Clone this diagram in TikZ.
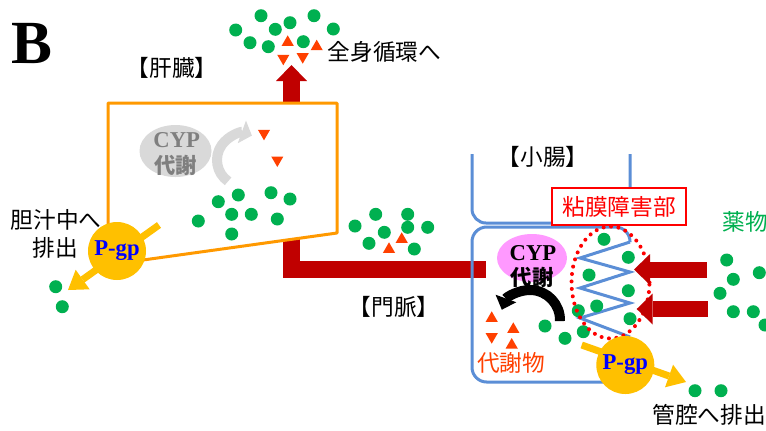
\documentclass[tikz,border=0pt]{standalone}
\usepackage{fontspec}
\setmainfont{Liberation Serif}
\newfontfamily\jp{Noto Sans CJK JP}
\usetikzlibrary{arrows.meta,shapes.geometric}

\definecolor{druggreen}{RGB}{0,176,80}
\definecolor{metab}{RGB}{255,64,0}
\definecolor{portalred}{RGB}{192,0,0}
\definecolor{gold}{RGB}{255,192,0}
\definecolor{liverorange}{RGB}{255,153,0}
\definecolor{mucosa}{RGB}{91,142,214}
\definecolor{cyppink}{RGB}{255,153,255}
\definecolor{cypgray}{RGB}{217,217,217}
\definecolor{cyptextgray}{RGB}{127,127,127}
\definecolor{pgpblue}{RGB}{0,0,255}

\begin{document}
\begin{tikzpicture}[x=0.75pt,y=0.75pt,
  drug/.style={circle,fill=druggreen,inner sep=0pt,minimum size=9.75pt},
  metup/.style={regular polygon,regular polygon sides=3,fill=metab,inner sep=0pt,minimum size=10.5pt},
  metdown/.style={metup,shape border rotate=180},
  jptext/.style={font=\jp\fontsize{17}{17}\selectfont,inner sep=0pt},
  vessel/.style={draw=portalred,line width=12.75pt},
  bigarrow/.style={vessel,-{Triangle[width=23.25pt,length=12pt,line width=0pt]}},
  inflow/.style={draw=portalred,line width=12pt,-{Triangle[width=23.25pt,length=12pt,line width=0pt]}},
  pgpflow/.style={draw=gold,line width=5.25pt,-{Triangle[width=18pt,length=13.5pt,line width=0pt]}},
  pgp/.style={circle,fill=gold,minimum size=43.5pt,inner sep=0pt,text=pgpblue,font=\bfseries\fontsize{17}{17}\selectfont},
  membrane/.style={draw=mucosa,line width=2.25pt},
  cyplatin/.style={font=\bfseries\fontsize{17}{17}\selectfont,inner sep=0pt},
  cypjp/.style={font=\jp\bfseries\fontsize{16}{16}\selectfont,inner sep=0pt},
]
% canvas
\fill[white] (0,0) rectangle (766,-430);
\useasboundingbox (0,0) rectangle (766,-430);

% panel letter and labels
\node[font=\bfseries\fontsize{46}{46}\selectfont,inner sep=0pt] (panel) at (31.5,-43.5) {B};
\node[jptext] (liverLbl) at (172,-68) {【肝臓】};
\node[jptext] (sysLbl) at (384.5,-52) {全身循環へ};
\node[jptext] (bileLbl1) at (56,-220) {胆汁中へ};
\node[jptext] (bileLbl2) at (55.5,-248) {排出};
\node[jptext] (portalLbl) at (394,-307) {【門脈】};
\node[jptext] (gutLbl) at (543,-157) {【小腸】};
\node[jptext,text=druggreen] (drugLbl) at (745,-222) {薬物};
\node[jptext,text=metab] (metLbl) at (511,-363) {代謝物};
\node[jptext] (lumenLbl) at (709,-415) {管腔へ排出};

% portal vein and outflow to the systemic circulation
\coordinate (pvLiver) at (291.5,-236);
\coordinate (pvBend) at (291.5,-269.5);
\coordinate (pvGut) at (486,-269.5);
\draw[vessel] (pvLiver) -- (pvBend) -- (pvGut);
\coordinate (liverOut) at (291.5,-105);
\coordinate (sysIn) at (291.5,-65);
\draw[bigarrow] (liverOut) -- (sysIn);

% liver
\draw[liverorange,fill=white,line width=2.25pt,line join=round]
  (108,-103) -- (337,-103) -- (337,-233) -- (143,-260) -- (108,-264.9) -- cycle;
\node[ellipse,fill=cypgray,minimum width=54pt,minimum height=39pt,inner sep=0pt] (cypLiver) at (175.5,-151) {};
\node[cyplatin,text=cyptextgray] (cypLiverA) at (176.7,-140.5) {CYP};
\node[cypjp,text=cyptextgray] (cypLiverB) at (175.5,-165) {代謝};
\draw[cypgray,line width=7.5pt,-{Triangle[width=18pt,length=8pt,line width=0pt]}]
  ([shift={(-125:26)}]243,-160) arc[start angle=-125,end angle=-290,radius=26];
\foreach \px/\py [count=\i] in {264/133.3, 277.3/160}
  \node[metdown] (livMet\i) at (\px,-\py) {};
\foreach \px/\py [count=\i] in {218.3/201.7, 238.3/195, 271/192.7, 290/199, 198.3/221,
    231.7/214.3, 251.3/214.3, 277.3/219, 231.7/234}
  \node[drug] (livDrug\i) at (\px,-\py) {};

% biliary excretion
\coordinate (bileFrom) at (159,-225);
\coordinate (bileTo) at (68,-290);
\draw[pgpflow] (bileFrom) -- (bileTo);
\node[pgp] (pgpLiver) at (117,-251) {P-gp};
\foreach \px/\py [count=\i] in {55.7/286.7, 62.3/306.7}
  \node[drug] (bileDrug\i) at (\px,-\py) {};

% systemic circulation
\foreach \px/\py [count=\i] in {235.7/30, 261/15.7, 275.3/29.3, 290/22.7, 314/15.7,
    333.3/29, 250/42.7, 268.3/46.7, 303.3/41.7}
  \node[drug] (sysDrug\i) at (\px,-\py) {};
\foreach \px/\py [count=\i] in {287.7/42.3, 316.7/46.7}
  \node[metup] (sysMetU\i) at (\px,-\py) {};
\foreach \px/\py [count=\i] in {283.3/58.3, 302.7/56.7}
  \node[metdown] (sysMetD\i) at (\px,-\py) {};

% portal blood
\foreach \px/\py [count=\i] in {355/226, 375.7/214.3, 407.7/214.3, 384.3/232.3, 407.7/227.3,
    427.7/227.3, 369/243.3, 414.3/249}
  \node[drug] (pvDrug\i) at (\px,-\py) {};
\foreach \px/\py [count=\i] in {389/249.3, 401.7/239.3}
  \node[metup] (pvMet\i) at (\px,-\py) {};

% small intestine
\draw[membrane,rounded corners=10.5pt] (472,-154) -- (472,-223) -- (630,-223) -- (630,-154);
\draw[membrane,rounded corners=11pt] (630,-242) -- (630,-227) -- (472,-227) -- (472,-382) -- (630,-382) -- (630,-337);
\draw[membrane] (630,-337) -- (580,-318) -- (630,-303) -- (580,-288) -- (630,-272) -- (580,-258) -- (630,-242);
\node[ellipse,fill=cyppink,minimum width=52.5pt,minimum height=36pt,inner sep=0pt] (cypGut) at (532,-258) {};
\node[cyplatin] (cypGutA) at (533,-253) {CYP};
\node[cypjp] (cypGutB) at (532,-277) {代謝};
\draw[black,line width=7.5pt,-{Triangle[width=16.5pt,length=9pt,line width=0pt]}]
  ([shift={(-2:30)}]530,-320) arc[start angle=-2,end angle=160,radius=30];
\foreach \px/\py [count=\i] in {491.7/318.3, 513.3/329.3, 511.7/345}
  \node[metup] (gutMetU\i) at (\px,-\py) {};
\node[metdown] (gutMetD1) at (491.7,-336.7) {};
\foreach \px/\py [count=\i] in {545/326, 565/338.3, 583.3/331.7, 578.3/310.7, 604/239.3,
    589/275, 596.7/306, 628.3/257.3, 628.3/290.7, 630/318.7}
  \node[drug] (gutDrug\i) at (\px,-\py) {};

% mucosal lesion
\draw[red,line width=3pt,dash pattern=on 0pt off 5.6pt,line cap=round]
  (610.5,-282.5) ellipse[x radius=39,y radius=56];
\node[jptext,draw=red,line width=1.9pt,fill=white,text=red,minimum width=100.5pt,minimum height=27.75pt] (lesionLbl) at (619,-206.5) {粘膜障害部};

% drug entering from the lumen
\coordinate (in1From) at (707,-269.5);
\coordinate (in1To) at (634,-269.5);
\coordinate (in2From) at (708,-309);
\coordinate (in2To) at (636.7,-309);
\draw[inflow] (in1From) -- (in1To);
\draw[inflow] (in2From) -- (in2To);
\foreach \px/\py [count=\i] in {726.7/260, 759.3/272.7, 733.3/279.3, 720/293.3, 733.3/311.7,
    753.3/311.7, 765/325}
  \node[drug] (lumDrug\i) at (\px,-\py) {};

% efflux back to the lumen
\coordinate (effFrom) at (581.7,-345);
\coordinate (effTo) at (686,-382);
\draw[pgpflow] (effFrom) -- (effTo);
\node[pgp] (pgpGut) at (625.3,-365) {P-gp};
\foreach \px/\py [count=\i] in {695/390.7, 721/390.7}
  \node[drug] (effDrug\i) at (\px,-\py) {};
\end{tikzpicture}
\end{document}
